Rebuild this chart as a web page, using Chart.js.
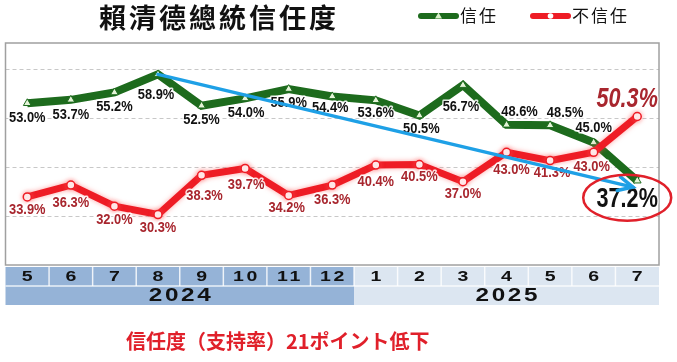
<!DOCTYPE html>
<html>
<head>
<meta charset="utf-8">
<script src="https://cdn.jsdelivr.net/npm/chart.js@4.4.1/dist/chart.umd.min.js"></script>
<style>
  html, body { margin: 0; padding: 0; background: #fff; }
  #wrap { width: 677px; height: 362px; }
</style>
</head>
<body>
<div id="wrap"><canvas id="c" width="677" height="362"></canvas></div>
<script>
// data
const months = ['5', '6', '7', '8', '9', '10', '11', '12', '1', '2', '3', '4', '5', '6', '7'];
const yearLabels = ['2024', '2025'];
const yearSpans = [8, 7];
const trust = [53.0, 53.7, 55.2, 58.9, 52.5, 54.0, 55.9, 54.4, 53.6, 50.5, 56.7, 48.6, 48.5, 45.0, 37.2];
const distrust = [33.9, 36.3, 32.0, 30.3, 38.3, 39.7, 34.2, 36.3, 40.4, 40.5, 37.0, 43.0, 41.3, 43.0, 50.3];
const gridValues = [30, 40, 50, 60];

// label placement (px from the point)
const trustOffsets = [[0, 15], [0, 15], [0, 15], [-2, 21], [0, 14], [1, 15], [0, 14], [-2, 12],
  [0, 13], [2, 14], [-2, 22], [13, -13], [15, -12], [0, -14], [-10, 19]];
const distrustOffsets = [[0, 13], [0, 18], [0, 14], [0, 14], [3, 21], [1, 17], [-2, 13], [0, 15],
  [0, 17], [0, 13], [0, 12], [5, 18], [2, 13], [-2, 15], [-10, -17]];

// blue trend arrow: [category index, value]
const arrowFrom = [3, 58.9];
const arrowTo = [13.9, 35.9];

const GREEN = '#1d6b1d';
const RED = '#ee1c25';
const RED_TEXT = '#a8262e';
const NUM_FONT = '"Liberation Sans", Arial, sans-serif';
const CJK_TC = '"Noto Sans CJK TC", "Noto Sans CJK SC", sans-serif';
const CJK_JP = '"Noto Sans CJK JP", "Noto Sans CJK SC", sans-serif';

function haloText(ctx, text, x, y, fill, sx) {
  ctx.save();
  ctx.translate(x, y);
  ctx.scale(sx, 1);
  ctx.lineJoin = 'round';
  ctx.strokeStyle = 'rgba(255,255,255,0.85)';
  ctx.lineWidth = 3;
  ctx.strokeText(text, 0, 0);
  ctx.fillStyle = fill;
  ctx.fillText(text, 0, 0);
  ctx.restore();
}

function wideText(ctx, text, x, y, sx, spacing) {
  ctx.save();
  ctx.translate(x + spacing * sx / 2, y);
  ctx.scale(sx, 1);
  ctx.letterSpacing = spacing + 'px';
  ctx.fillText(text, 0, 0);
  ctx.restore();
}

const framePlugin = {
  id: 'frame',
  beforeDatasetsDraw(chart) {
    const { ctx, chartArea: a, scales: { y } } = chart;
    ctx.save();
    ctx.strokeStyle = '#c8c8c8';
    ctx.lineWidth = 1;
    ctx.setLineDash([4, 3]);
    gridValues.forEach(v => {
      const py = Math.round(y.getPixelForValue(v)) + 0.5;
      ctx.beginPath();
      ctx.moveTo(a.left, py);
      ctx.lineTo(a.right, py);
      ctx.stroke();
    });
    ctx.setLineDash([]);
    ctx.strokeStyle = '#a0a0a0';
    ctx.lineWidth = 1.5;
    ctx.strokeRect(a.left, a.top, a.right - a.left, a.bottom - a.top);
    ctx.restore();
  },
  beforeDatasetDraw(chart, args) {
    if (args.index === 1) {
      chart.ctx.save();
      chart.ctx.shadowColor = 'rgba(255,90,90,0.55)';
      chart.ctx.shadowBlur = 5;
    }
  },
  afterDatasetDraw(chart, args) {
    if (args.index === 1) chart.ctx.restore();
  }
};

const labelPlugin = {
  id: 'pointLabels',
  afterDatasetsDraw(chart) {
    const { ctx } = chart;
    const last = months.length - 1;
    ctx.save();
    ctx.textAlign = 'center';
    ctx.textBaseline = 'middle';
    [[0, trust, trustOffsets, '#111'], [1, distrust, distrustOffsets, RED_TEXT]].forEach(([di, vals, offs, col]) => {
      const pts = chart.getDatasetMeta(di).data;
      vals.forEach((v, i) => {
        const p = pts[i];
        const t = v.toFixed(1) + '%';
        let sx = 0.92;
        if (i === last) {
          ctx.font = (di === 1 ? 'italic ' : '') + 'bold 27px ' + NUM_FONT;
          sx = 0.8;
        } else {
          ctx.font = 'bold 14px ' + NUM_FONT;
        }
        haloText(ctx, t, p.x + offs[i][0], p.y + offs[i][1], col, sx);
      });
    });
    ctx.restore();
  }
};

const overlayPlugin = {
  id: 'overlay',
  afterDraw(chart) {
    const { ctx, chartArea: a, scales: { x, y } } = chart;
    const step = x.getPixelForValue(1) - x.getPixelForValue(0);
    ctx.save();

    // month / year band
    const rowTop = 267, rowMid = 286, rowBot = 305;
    months.forEach((m, i) => {
      const cx = x.getPixelForValue(i);
      ctx.fillStyle = i < yearSpans[0] ? '#95b3d7' : '#dce6f1';
      ctx.fillRect(cx - step / 2, rowTop, step, rowMid - rowTop);
    });
    let start = 0;
    yearSpans.forEach((n, k) => {
      const l = x.getPixelForValue(start) - step / 2;
      ctx.fillStyle = k === 0 ? '#95b3d7' : '#dce6f1';
      ctx.fillRect(l, rowMid, step * n, rowBot - rowMid);
      start += n;
    });
    ctx.strokeStyle = 'rgba(255,255,255,0.8)';
    ctx.lineWidth = 1.5;
    months.forEach((m, i) => {
      if (i === 0) return;
      const lx = x.getPixelForValue(i) - step / 2;
      ctx.beginPath();
      ctx.moveTo(lx, rowTop);
      ctx.lineTo(lx, rowMid);
      ctx.stroke();
    });
    ctx.beginPath();
    ctx.moveTo(a.left, rowMid);
    ctx.lineTo(a.right, rowMid);
    ctx.stroke();

    ctx.fillStyle = '#111';
    ctx.textAlign = 'center';
    ctx.textBaseline = 'middle';
    ctx.font = 'bold 15px ' + NUM_FONT;
    months.forEach((m, i) => wideText(ctx, m, x.getPixelForValue(i), rowTop + 10, 1.3, 2));
    start = 0;
    ctx.font = 'bold 18px ' + NUM_FONT;
    yearSpans.forEach((n, k) => {
      const cx = (x.getPixelForValue(start) + x.getPixelForValue(start + n - 1)) / 2;
      wideText(ctx, yearLabels[k], cx, rowMid + 10, 1.35, 2);
      start += n;
    });

    // trend arrow
    const x0 = x.getPixelForValue(arrowFrom[0]), y0 = y.getPixelForValue(arrowFrom[1]);
    const x1 = x.getPixelForValue(0) + arrowTo[0] * step, y1 = y.getPixelForValue(arrowTo[1]);
    ctx.strokeStyle = '#1ea0e6';
    ctx.lineWidth = 3.5;
    ctx.lineCap = 'round';
    ctx.beginPath();
    ctx.moveTo(x0, y0);
    ctx.lineTo(x1, y1);
    ctx.stroke();
    const ang = Math.atan2(y1 - y0, x1 - x0);
    ctx.beginPath();
    ctx.moveTo(x1 - 16 * Math.cos(ang - 0.45), y1 - 16 * Math.sin(ang - 0.45));
    ctx.lineTo(x1, y1);
    ctx.lineTo(x1 - 16 * Math.cos(ang + 0.45), y1 - 16 * Math.sin(ang + 0.45));
    ctx.stroke();

    // ellipse round the last trust value
    const lp = chart.getDatasetMeta(0).data[months.length - 1];
    ctx.strokeStyle = '#e0202a';
    ctx.lineWidth = 2.5;
    ctx.beginPath();
    ctx.ellipse(lp.x - 10, lp.y + 17, 44, 23, 0, 0, Math.PI * 2);
    ctx.stroke();

    // title
    ctx.fillStyle = '#111';
    ctx.font = 'bold 27px ' + CJK_TC;
    ctx.letterSpacing = '3px';
    ctx.fillText('賴清德總統信任度', 219, 18);
    ctx.letterSpacing = '0px';

    // legend
    ctx.textAlign = 'left';
    ctx.font = '17px ' + CJK_TC;
    [[418, GREEN, '信任', 'tri'], [530, RED, '不信任', 'dot']].forEach(([lx, col, txt, mk]) => {
      ctx.strokeStyle = col;
      ctx.lineWidth = 6;
      ctx.lineCap = 'round';
      ctx.beginPath();
      ctx.moveTo(lx + 3, 16);
      ctx.lineTo(lx + 38, 16);
      ctx.stroke();
      ctx.fillStyle = mk === 'tri' ? '#d8f0c8' : '#fff';
      ctx.beginPath();
      if (mk === 'tri') {
        ctx.moveTo(lx + 20.5, 12.5); ctx.lineTo(lx + 24, 18.5); ctx.lineTo(lx + 17, 18.5); ctx.closePath();
      } else {
        ctx.arc(lx + 20.5, 16, 2.8, 0, Math.PI * 2);
      }
      ctx.fill();
      ctx.fillStyle = '#111';
      ctx.letterSpacing = '2px';
      ctx.fillText(txt, lx + 42, 16);
      ctx.letterSpacing = '0px';
    });

    // caption
    ctx.fillStyle = '#e0202a';
    ctx.font = 'bold 20px ' + CJK_JP;
    ctx.fillText('信任度（支持率）21ポイント低下', 126, 341);

    ctx.restore();
  }
};

new Chart(document.getElementById('c'), {
  type: 'line',
  data: {
    labels: months,
    datasets: [
      {
        label: '信任',
        data: trust,
        order: 2,
        borderColor: GREEN,
        borderWidth: 8,
        pointStyle: 'triangle',
        pointRadius: 4.5,
        pointBackgroundColor: '#e4f4d8',
        pointBorderColor: GREEN,
        pointBorderWidth: 1,
        tension: 0
      },
      {
        label: '不信任',
        data: distrust,
        order: 1,
        borderColor: RED,
        borderWidth: 7,
        pointStyle: 'circle',
        pointRadius: 4,
        pointBackgroundColor: '#fff',
        pointBorderColor: RED,
        pointBorderWidth: 1.5,
        tension: 0
      }
    ]
  },
  options: {
    responsive: false,
    animation: false,
    devicePixelRatio: 1,
    layout: { padding: { left: 3, right: 18, top: 43, bottom: 97 } },
    plugins: {
      legend: { display: false },
      tooltip: { enabled: false }
    },
    scales: {
      x: { type: 'category', offset: true, display: false },
      y: { min: 20, max: 65.3, display: false }
    }
  },
  plugins: [framePlugin, labelPlugin, overlayPlugin]
});
</script>
</body>
</html>
